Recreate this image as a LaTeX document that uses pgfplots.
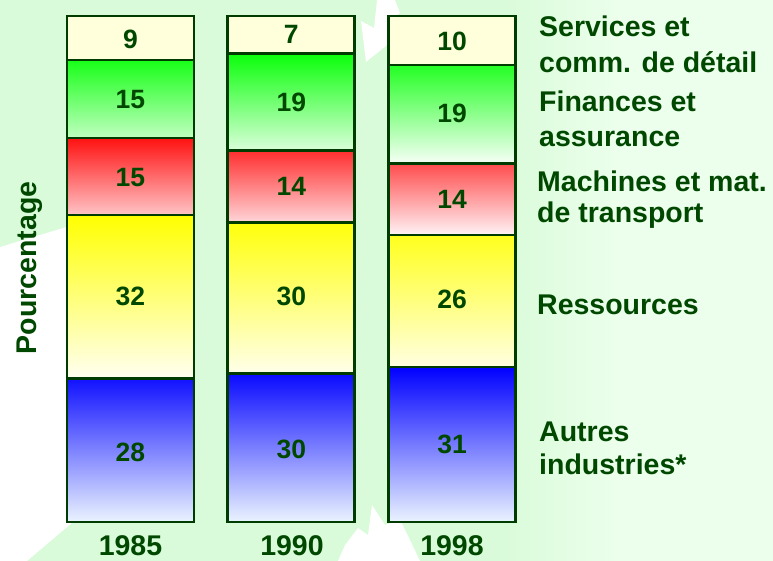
\documentclass[border=0pt]{standalone}
\usepackage{pgfplots}
\pgfplotsset{compat=1.18}
\usepackage{fontspec}
\setmainfont{Liberation Sans}
\definecolor{bord}{RGB}{0,60,0}
\definecolor{txt}{RGB}{0,72,0}
\definecolor{bgA}{RGB}{236,255,236}
\definecolor{bgB}{RGB}{217,251,217}
\definecolor{bluT}{RGB}{0,0,255}
\definecolor{bluB}{RGB}{235,244,255}
\definecolor{yelT}{RGB}{255,255,0}
\definecolor{yelB}{RGB}{255,255,242}
\definecolor{redT}{RGB}{255,17,17}
\definecolor{redB}{RGB}{255,243,246}
\definecolor{grnT}{RGB}{10,255,10}
\definecolor{grnB}{RGB}{246,255,246}
\definecolor{crm}{RGB}{255,255,220}
\begin{document}
\begin{tikzpicture}[x=1bp,y=1bp]
\fill[bgB] (0,0) rectangle (773,561);
\shade[left color=bgB, right color=bgA] (500,0) rectangle (620,561);
\fill[bgA] (619,0) rectangle (773,561);
\fill[white] (0,0) -- (0,314) -- (120,350) -- (120,39) -- (73,39) -- (27,0) -- cycle;
\fill[white] (366,499) -- (361,540) -- (374,533) -- (377,561) -- (395,561) -- (400,548) -- (388,540) -- (392,520) -- cycle;
\fill[white] (345,16) -- (358,33) -- (368,26) -- (372,56) -- (385,36) -- (400,41) -- (410,21) -- (420,0) -- (338,0) -- cycle;
\useasboundingbox (0,0) rectangle (773,561);
\begin{axis}[at={(50bp,39bp)}, anchor=south west, scale only axis,
  width=482.5bp, height=506bp, xmin=-0.5, xmax=2.5, ymin=0, ymax=100,
  hide axis, clip=false, ybar stacked, bar width=127bp]
\addplot[draw=bord, line width=2.6bp, top color=bluT, bottom color=bluB] coordinates {(0,28.3) (1,29.4) (2,30.6)};
\addplot[draw=bord, line width=2.6bp, top color=yelT, bottom color=yelB] coordinates {(0,32.4) (1,29.8) (2,26.1)};
\addplot[draw=bord, line width=2.6bp, top color=redT, bottom color=redB] coordinates {(0,15.2) (1,14.2) (2,14.2)};
\addplot[draw=bord, line width=2.6bp, top color=grnT, bottom color=grnB] coordinates {(0,15.4) (1,19.2) (2,19.4)};
\addplot[draw=bord, line width=2.6bp, fill=crm] coordinates {(0,8.7) (1,7.4) (2,9.7)};
\end{axis}
\begin{axis}[at={(50bp,39bp)}, anchor=south west, scale only axis,
  width=482.5bp, height=506bp, xmin=-0.5, xmax=2.5, ymin=0, ymax=100,
  hide axis, clip=false]
\addplot[draw=none, mark=none, nodes near coords, point meta=explicit symbolic,
  nodes near coords style={anchor=center, text=txt, font=\fontsize{26.5bp}{30bp}\selectfont\bfseries}]
  coordinates {
  (0,13.8)[28] (0,44.5)[32] (0,68.0)[15] (0,83.4)[15] (0,95.3)[9]
  (1,14.4)[30] (1,44.5)[30] (1,66.4)[14] (1,83.0)[19] (1,96.4)[7]
  (2,15.4)[31] (2,43.9)[26] (2,63.8)[14] (2,80.8)[19] (2,94.9)[10]
  };
\end{axis}
\begin{scope}[every node/.style={text=txt, font=\fontsize{28.5bp}{34bp}\selectfont\bfseries, inner sep=0pt}]
\node[anchor=base west] at (539,524) {Services et};
\node[anchor=base west] at (539,488) {comm. de détail};
\node[anchor=base west] at (539,449) {Finances et};
\node[anchor=base west] at (539,414) {assurance};
\node[anchor=base west] at (537,369) {Machines et mat.};
\node[anchor=base west] at (537,338) {de transport};
\node[anchor=base west] at (537,246) {Ressources};
\node[anchor=base west] at (539,119) {Autres};
\node[anchor=base west] at (539,86) {industries*};
\node[anchor=base] at (130.5,5.5) {1985};
\node[anchor=base] at (292,5.5) {1990};
\node[anchor=base] at (452,5.5) {1998};
\node[rotate=90] at (30,293) {Pourcentage};
\end{scope}
\end{tikzpicture}
\end{document}
